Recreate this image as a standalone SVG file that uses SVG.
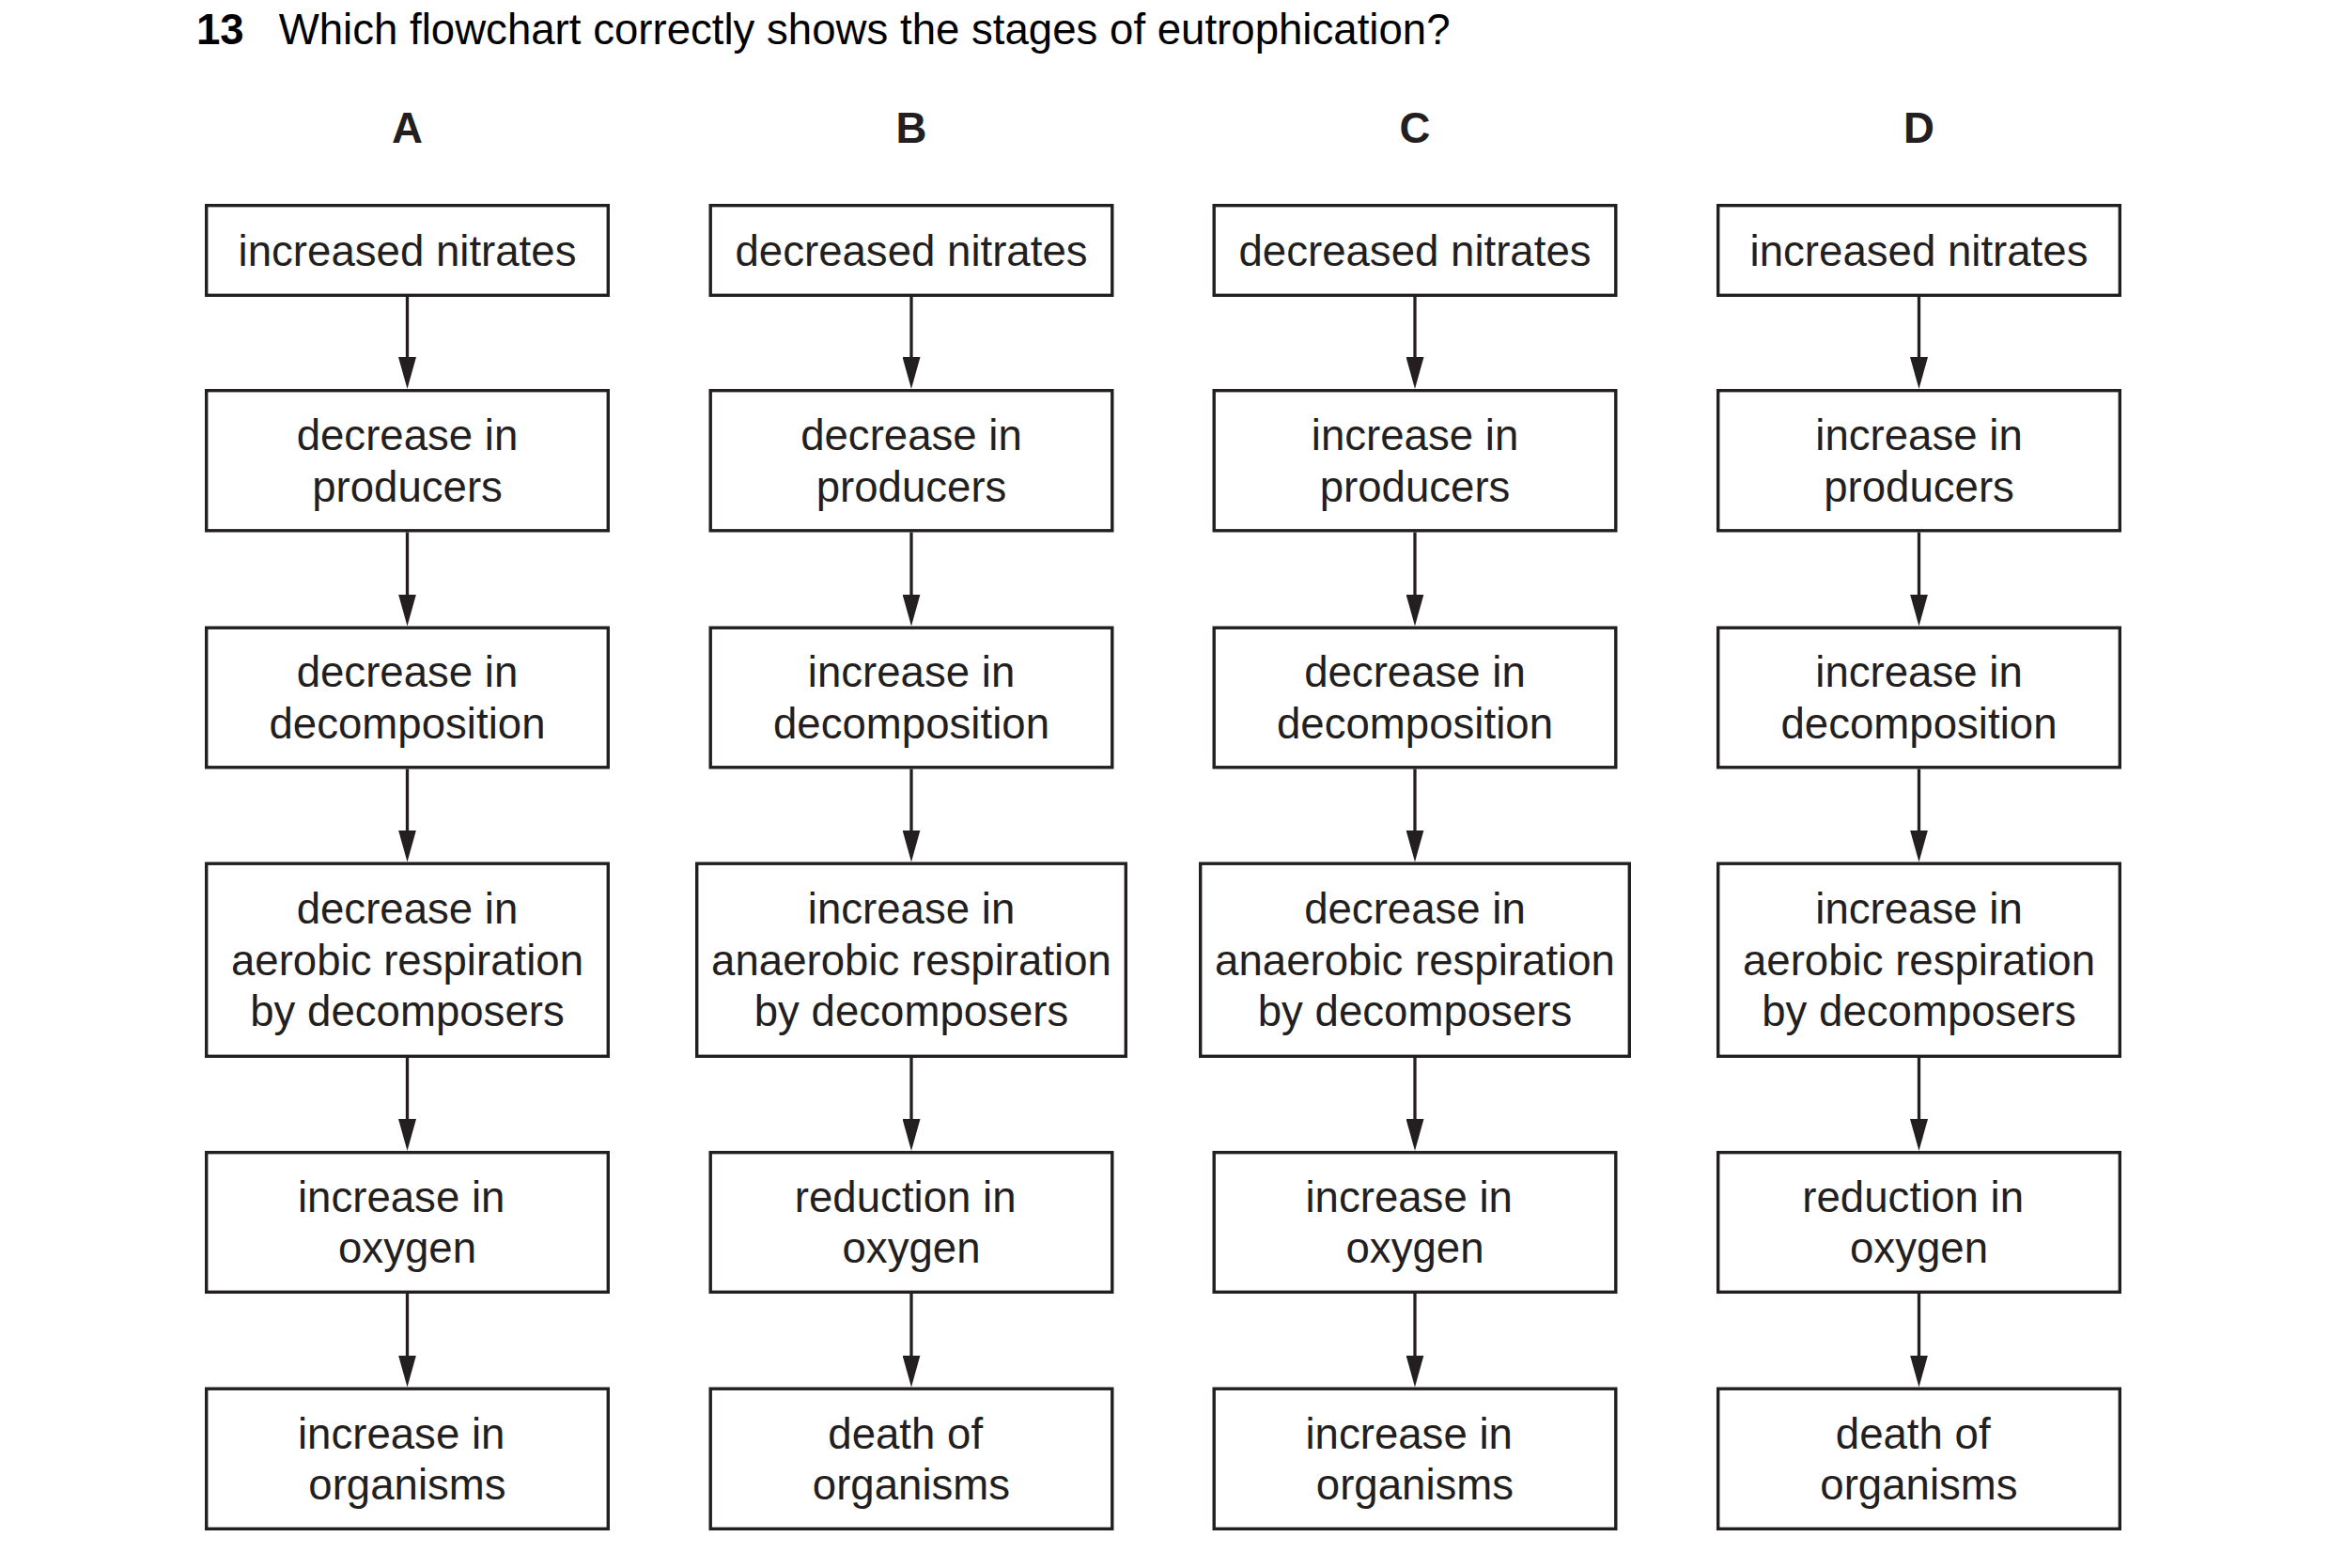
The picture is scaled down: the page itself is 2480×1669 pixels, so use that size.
<svg xmlns="http://www.w3.org/2000/svg" width="2480" height="1669" viewBox="0 0 2480 1669">
<style>
.bg{fill:#ffffff}
.box{fill:#ffffff;stroke:#231f20;stroke-width:3.4}
.t{font-family:"Liberation Sans",Arial,Helvetica,sans-serif;font-size:45.6px;fill:#231f20;text-anchor:middle}
.h{font-family:"Liberation Sans",Arial,Helvetica,sans-serif;font-size:45.6px;font-weight:bold;fill:#231f20;text-anchor:middle}
.q{font-family:"Liberation Sans",Arial,Helvetica,sans-serif;font-size:45.6px;fill:#000000}
.qb{font-family:"Liberation Sans",Arial,Helvetica,sans-serif;font-size:45.6px;font-weight:bold;fill:#000000}
.c{stroke:#231f20;stroke-width:3.3;fill:none}
</style>
<defs>
<marker id="arr" viewBox="0 0 34 19" markerWidth="34" markerHeight="19" refX="17" refY="9.5" orient="auto" markerUnits="userSpaceOnUse">
<path d="M0,0 L34,9.5 L0,19 Z" fill="#231f20"/>
</marker>
</defs>
<rect class="bg" x="0" y="0" width="2480" height="1669"/>

<g id="title">
<text class="qb" x="209" y="47">13</text>
<text class="q" x="296.7" y="47">Which flowchart correctly shows the stages of eutrophication?</text>
</g>

<g id="headers">
<text class="h" x="433.5" y="151.7">A</text>
<text class="h" x="970" y="151.7">B</text>
<text class="h" x="1506" y="151.7">C</text>
<text class="h" x="2042.5" y="151.7">D</text>
</g>

<g id="connectors">
<line class="c" x1="433.5" y1="316" x2="433.5" y2="397" marker-end="url(#arr)"/>
<line class="c" x1="433.5" y1="566.5" x2="433.5" y2="649.5" marker-end="url(#arr)"/>
<line class="c" x1="433.5" y1="818.5" x2="433.5" y2="900.5" marker-end="url(#arr)"/>
<line class="c" x1="433.5" y1="1126" x2="433.5" y2="1208" marker-end="url(#arr)"/>
<line class="c" x1="433.5" y1="1377" x2="433.5" y2="1459.5" marker-end="url(#arr)"/>

<line class="c" x1="970" y1="316" x2="970" y2="397" marker-end="url(#arr)"/>
<line class="c" x1="970" y1="566.5" x2="970" y2="649.5" marker-end="url(#arr)"/>
<line class="c" x1="970" y1="818.5" x2="970" y2="900.5" marker-end="url(#arr)"/>
<line class="c" x1="970" y1="1126" x2="970" y2="1208" marker-end="url(#arr)"/>
<line class="c" x1="970" y1="1377" x2="970" y2="1459.5" marker-end="url(#arr)"/>

<line class="c" x1="1506" y1="316" x2="1506" y2="397" marker-end="url(#arr)"/>
<line class="c" x1="1506" y1="566.5" x2="1506" y2="649.5" marker-end="url(#arr)"/>
<line class="c" x1="1506" y1="818.5" x2="1506" y2="900.5" marker-end="url(#arr)"/>
<line class="c" x1="1506" y1="1126" x2="1506" y2="1208" marker-end="url(#arr)"/>
<line class="c" x1="1506" y1="1377" x2="1506" y2="1459.5" marker-end="url(#arr)"/>

<line class="c" x1="2042.5" y1="316" x2="2042.5" y2="397" marker-end="url(#arr)"/>
<line class="c" x1="2042.5" y1="566.5" x2="2042.5" y2="649.5" marker-end="url(#arr)"/>
<line class="c" x1="2042.5" y1="818.5" x2="2042.5" y2="900.5" marker-end="url(#arr)"/>
<line class="c" x1="2042.5" y1="1126" x2="2042.5" y2="1208" marker-end="url(#arr)"/>
<line class="c" x1="2042.5" y1="1377" x2="2042.5" y2="1459.5" marker-end="url(#arr)"/>
</g>

<!-- Column A -->
<g id="A1"><rect class="box" x="219.7" y="218.7" width="427.6" height="95.6"/>
<text class="t" x="433.5" y="282.5">increased nitrates</text></g>
<g id="A2"><rect class="box" x="219.7" y="415.7" width="427.6" height="149.1"/>
<text class="t" x="433.5" y="479">decrease in</text><text class="t" x="433.5" y="533.5">producers</text></g>
<g id="A3"><rect class="box" x="219.7" y="668.2" width="427.6" height="148.6"/>
<text class="t" x="433.5" y="731.25">decrease in</text><text class="t" x="433.5" y="785.75">decomposition</text></g>
<g id="A4"><rect class="box" x="219.7" y="919.2" width="427.6" height="205.1"/>
<text class="t" x="433.5" y="983.25">decrease in</text><text class="t" x="433.5" y="1037.75">aerobic respiration</text><text class="t" x="433.5" y="1092.25">by decomposers</text></g>
<g id="A5"><rect class="box" x="219.7" y="1226.7" width="427.6" height="148.6"/>
<text class="t" x="427.2" y="1289.75">increase in</text><text class="t" x="433.5" y="1344.25">oxygen</text></g>
<g id="A6"><rect class="box" x="219.7" y="1478.2" width="427.6" height="149.1"/>
<text class="t" x="427.2" y="1541.5">increase in</text><text class="t" x="433.5" y="1596">organisms</text></g>

<!-- Column B -->
<g id="B1"><rect class="box" x="756.2" y="218.7" width="427.6" height="95.6"/>
<text class="t" x="970" y="282.5">decreased nitrates</text></g>
<g id="B2"><rect class="box" x="756.2" y="415.7" width="427.6" height="149.1"/>
<text class="t" x="970" y="479">decrease in</text><text class="t" x="970" y="533.5">producers</text></g>
<g id="B3"><rect class="box" x="756.2" y="668.2" width="427.6" height="148.6"/>
<text class="t" x="970" y="731.25">increase in</text><text class="t" x="970" y="785.75">decomposition</text></g>
<g id="B4"><rect class="box" x="741.7" y="919.2" width="456.6" height="205.1"/>
<text class="t" x="970" y="983.25">increase in</text><text class="t" x="970" y="1037.75">anaerobic respiration</text><text class="t" x="970" y="1092.25">by decomposers</text></g>
<g id="B5"><rect class="box" x="756.2" y="1226.7" width="427.6" height="148.6"/>
<text class="t" x="963.7" y="1289.75">reduction in</text><text class="t" x="970" y="1344.25">oxygen</text></g>
<g id="B6"><rect class="box" x="756.2" y="1478.2" width="427.6" height="149.1"/>
<text class="t" x="963.7" y="1541.5">death of</text><text class="t" x="970" y="1596">organisms</text></g>

<!-- Column C -->
<g id="C1"><rect class="box" x="1292.2" y="218.7" width="427.6" height="95.6"/>
<text class="t" x="1506" y="282.5">decreased nitrates</text></g>
<g id="C2"><rect class="box" x="1292.2" y="415.7" width="427.6" height="149.1"/>
<text class="t" x="1506" y="479">increase in</text><text class="t" x="1506" y="533.5">producers</text></g>
<g id="C3"><rect class="box" x="1292.2" y="668.2" width="427.6" height="148.6"/>
<text class="t" x="1506" y="731.25">decrease in</text><text class="t" x="1506" y="785.75">decomposition</text></g>
<g id="C4"><rect class="box" x="1277.7" y="919.2" width="456.6" height="205.1"/>
<text class="t" x="1506" y="983.25">decrease in</text><text class="t" x="1506" y="1037.75">anaerobic respiration</text><text class="t" x="1506" y="1092.25">by decomposers</text></g>
<g id="C5"><rect class="box" x="1292.2" y="1226.7" width="427.6" height="148.6"/>
<text class="t" x="1499.7" y="1289.75">increase in</text><text class="t" x="1506" y="1344.25">oxygen</text></g>
<g id="C6"><rect class="box" x="1292.2" y="1478.2" width="427.6" height="149.1"/>
<text class="t" x="1499.7" y="1541.5">increase in</text><text class="t" x="1506" y="1596">organisms</text></g>

<!-- Column D -->
<g id="D1"><rect class="box" x="1828.7" y="218.7" width="427.6" height="95.6"/>
<text class="t" x="2042.5" y="282.5">increased nitrates</text></g>
<g id="D2"><rect class="box" x="1828.7" y="415.7" width="427.6" height="149.1"/>
<text class="t" x="2042.5" y="479">increase in</text><text class="t" x="2042.5" y="533.5">producers</text></g>
<g id="D3"><rect class="box" x="1828.7" y="668.2" width="427.6" height="148.6"/>
<text class="t" x="2042.5" y="731.25">increase in</text><text class="t" x="2042.5" y="785.75">decomposition</text></g>
<g id="D4"><rect class="box" x="1828.7" y="919.2" width="427.6" height="205.1"/>
<text class="t" x="2042.5" y="983.25">increase in</text><text class="t" x="2042.5" y="1037.75">aerobic respiration</text><text class="t" x="2042.5" y="1092.25">by decomposers</text></g>
<g id="D5"><rect class="box" x="1828.7" y="1226.7" width="427.6" height="148.6"/>
<text class="t" x="2036.2" y="1289.75">reduction in</text><text class="t" x="2042.5" y="1344.25">oxygen</text></g>
<g id="D6"><rect class="box" x="1828.7" y="1478.2" width="427.6" height="149.1"/>
<text class="t" x="2036.2" y="1541.5">death of</text><text class="t" x="2042.5" y="1596">organisms</text></g>
</svg>
